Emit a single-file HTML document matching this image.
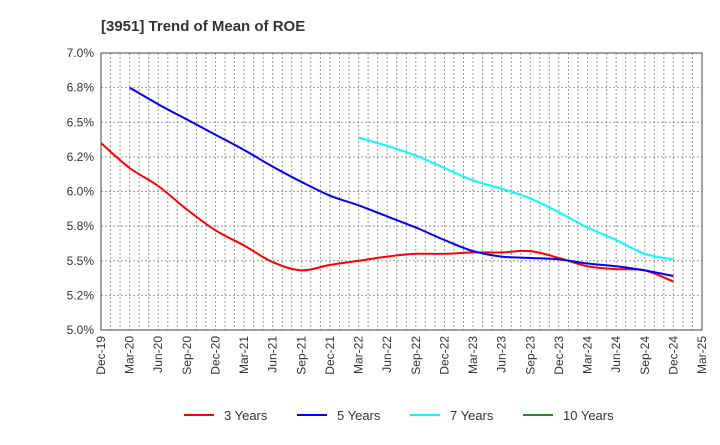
<!DOCTYPE html>
<html><head><meta charset="utf-8"><style>
body{margin:0;background:#fff;font-family:"Liberation Sans",sans-serif;}
svg text{font-family:"Liberation Sans",sans-serif;}
</style></head><body>
<svg id="chart" width="720" height="440">
<text x="101" y="31" font-size="15" font-weight="bold" fill="#333">[3951]  Trend of Mean of ROE</text>
<g id="grid"></g><g id="axes"></g><g id="series"></g><g id="legend"></g>
</svg>
<script>
const quarters=["Dec-19","Mar-20","Jun-20","Sep-20","Dec-20","Mar-21","Jun-21","Sep-21","Dec-21","Mar-22","Jun-22","Sep-22","Dec-22","Mar-23","Jun-23","Sep-23","Dec-23","Mar-24","Jun-24","Sep-24","Dec-24","Mar-25"];
const yTicks=[5.0,5.25,5.5,5.75,6.0,6.25,6.5,6.75,7.0];
const yTickLabels=["5.0%","5.2%","5.5%","5.8%","6.0%","6.2%","6.5%","6.8%","7.0%"];
const s3=[6.35,6.17,6.04,5.87,5.72,5.61,5.49,5.43,5.47,5.50,5.53,5.55,5.55,5.56,5.56,5.57,5.52,5.46,5.44,5.43,5.35];
const s5=[null,6.75,6.63,6.52,6.41,6.30,6.18,6.07,5.97,5.90,5.82,5.74,5.65,5.57,5.53,5.52,5.51,5.48,5.46,5.43,5.39];
const s7=[null,null,null,null,null,null,null,null,null,6.39,6.33,6.26,6.17,6.08,6.02,5.95,5.85,5.74,5.65,5.55,5.51];
const s10=[];
const L=101,R=702,T=53,B=330,NS="http://www.w3.org/2000/svg";
const xq=i=>L+(R-L)*i/(quarters.length-1);
const yv=v=>B-(v-5.0)/(7.0-5.0)*(B-T);
function mk(tag,attrs,parent){const e=document.createElementNS(NS,tag);for(const k in attrs)e.setAttribute(k,attrs[k]);document.getElementById(parent).appendChild(e);return e;}
for(let m=1;m<(quarters.length-1)*3;m++){const x=L+(R-L)*m/((quarters.length-1)*3);
const g=mk('line',{x1:x,x2:x,y1:T,y2:B,stroke:'#999','stroke-dasharray':'2,2','stroke-width':1},'grid');

}
yTicks.forEach((v,i)=>{const y=yv(v);
const g=mk('line',{x1:L,x2:R,y1:y,y2:y,stroke:'#999','stroke-dasharray':'2,2','stroke-width':1},'grid');


const t=mk('text',{x:L-7,y:y+4,'text-anchor':'end','font-size':12,fill:'#333'},'axes');t.textContent=yTickLabels[i];

});
const fr=mk('rect',{x:L,y:T,width:R-L,height:B-T,fill:'none',stroke:'#444','stroke-width':1},'axes');


quarters.forEach((q,i)=>{const x=xq(i);
const t=mk('text',{x:0,y:0,transform:`translate(${x+4},${B+6}) rotate(-90)`,'text-anchor':'end','font-size':12,fill:'#333'},'axes');t.textContent=q;

});
function series(arr,color,name){const pts=[];arr.forEach((v,i)=>{if(v!=null)pts.push([xq(i),yv(v)]);});
if(pts.length<2)return;let d='M'+pts[0][0].toFixed(1)+','+pts[0][1].toFixed(1);
for(let i=0;i<pts.length-1;i++){const p0=pts[Math.max(i-1,0)],p1=pts[i],p2=pts[i+1],p3=pts[Math.min(i+2,pts.length-1)];const k=1/6;
const c1=[p1[0]+(p2[0]-p0[0])*k,p1[1]+(p2[1]-p0[1])*k],c2=[p2[0]-(p3[0]-p1[0])*k,p2[1]-(p3[1]-p1[1])*k];
d+=`C${c1[0].toFixed(1)},${c1[1].toFixed(1)} ${c2[0].toFixed(1)},${c2[1].toFixed(1)} ${p2[0].toFixed(1)},${p2[1].toFixed(1)}`;}
const p=mk('path',{d:d,fill:'none',stroke:color,'stroke-width':2,'stroke-linejoin':'round'},'series');

}
series(s3,'#ff0000','line-3-years');series(s5,'#0000ff','line-5-years');series(s7,'#00ffff','line-7-years');series(s10,'#228b22','line-10-years');
const leg=[["3 Years","#ff0000"],["5 Years","#0000ff"],["7 Years","#00ffff"],["10 Years","#228b22"]];
leg.forEach((e,i)=>{const x=184+113*i;
const l=mk('line',{x1:x,x2:x+30,y1:415,y2:415,stroke:e[1],'stroke-width':2},'legend');


const t=mk('text',{x:x+40,y:420,'font-size':13,fill:'#333'},'legend');t.textContent=e[0];

});
</script>
</body></html>
